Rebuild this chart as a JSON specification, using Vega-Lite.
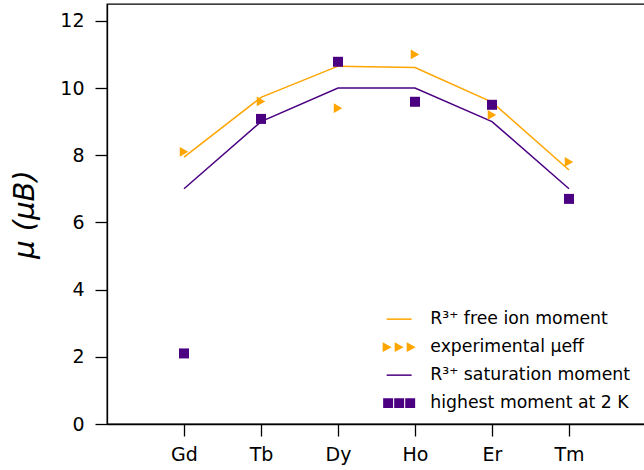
{
  "$schema": "https://vega.github.io/schema/vega-lite/v6.json",
  "autosize": "none",
  "width": 539,
  "height": 420,
  "padding": {"left": 107, "top": 4, "right": 0, "bottom": 46},
  "background": "white",
  "config": {
    "font": "DejaVu Sans",
    "view": {"stroke": "black", "strokeWidth": 1.3},
    "axis": {
      "domainColor": "black", "domainWidth": 1.3,
      "tickColor": "black", "tickWidth": 1.3, "tickSize": 12,
      "labelColor": "black", "labelFont": "DejaVu Sans", "labelFontSize": 19,
      "grid": false
    }
  },
  "data": {
    "values": [
      {"el": "Gd", "i": 0, "series": "R³⁺ free ion moment", "value": 7.94},
      {"el": "Tb", "i": 1, "series": "R³⁺ free ion moment", "value": 9.72},
      {"el": "Dy", "i": 2, "series": "R³⁺ free ion moment", "value": 10.65},
      {"el": "Ho", "i": 3, "series": "R³⁺ free ion moment", "value": 10.61},
      {"el": "Er", "i": 4, "series": "R³⁺ free ion moment", "value": 9.58},
      {"el": "Tm", "i": 5, "series": "R³⁺ free ion moment", "value": 7.56},
      {"el": "Gd", "i": 0, "series": "experimental μeff", "value": 8.1},
      {"el": "Tb", "i": 1, "series": "experimental μeff", "value": 9.6},
      {"el": "Dy", "i": 2, "series": "experimental μeff", "value": 9.4},
      {"el": "Ho", "i": 3, "series": "experimental μeff", "value": 11.0},
      {"el": "Er", "i": 4, "series": "experimental μeff", "value": 9.2},
      {"el": "Tm", "i": 5, "series": "experimental μeff", "value": 7.8},
      {"el": "Gd", "i": 0, "series": "R³⁺ saturation moment", "value": 7.0},
      {"el": "Tb", "i": 1, "series": "R³⁺ saturation moment", "value": 9.0},
      {"el": "Dy", "i": 2, "series": "R³⁺ saturation moment", "value": 10.0},
      {"el": "Ho", "i": 3, "series": "R³⁺ saturation moment", "value": 10.0},
      {"el": "Er", "i": 4, "series": "R³⁺ saturation moment", "value": 9.0},
      {"el": "Tm", "i": 5, "series": "R³⁺ saturation moment", "value": 7.0},
      {"el": "Gd", "i": 0, "series": "highest moment at 2 K", "value": 2.1},
      {"el": "Tb", "i": 1, "series": "highest moment at 2 K", "value": 9.08},
      {"el": "Dy", "i": 2, "series": "highest moment at 2 K", "value": 10.78},
      {"el": "Ho", "i": 3, "series": "highest moment at 2 K", "value": 9.59},
      {"el": "Er", "i": 4, "series": "highest moment at 2 K", "value": 9.5},
      {"el": "Tm", "i": 5, "series": "highest moment at 2 K", "value": 6.7}
    ]
  },
  "encoding": {
    "x": {
      "field": "i", "type": "quantitative",
      "scale": {"domain": [-1, 6], "nice": false, "zero": false},
      "axis": {
        "title": null, "values": [0, 1, 2, 3, 4, 5], "labelPadding": 9,
        "labelExpr": "['Gd','Tb','Dy','Ho','Er','Tm'][datum.value]"
      }
    },
    "y": {
      "field": "value", "type": "quantitative",
      "scale": {"domain": [0, 12.5], "nice": false},
      "axis": {
        "title": "μ (μB)", "values": [0, 2, 4, 6, 8, 10, 12], "labelPadding": 11,
        "titleFont": "DejaVu Sans", "titleFontSize": 29, "titleFontStyle": "italic",
        "titleFontWeight": "normal", "titleColor": "black", "titlePadding": 20
      }
    },
    "color": {
      "field": "series", "type": "nominal",
      "scale": {
        "domain": ["R³⁺ free ion moment", "experimental μeff", "R³⁺ saturation moment", "highest moment at 2 K"],
        "range": ["#FFA500", "#FFA500", "#4B0082", "#4B0082"]
      },
      "legend": {
        "title": null, "orient": "none", "legendX": 283.5, "legendY": 306.5,
        "padding": 0, "symbolSize": 256, "rowPadding": 10,
        "labelFont": "DejaVu Sans", "labelFontSize": 17.3, "labelColor": "black", "labelOffset": 22.5,
        "labelLimit": 400,
        "encode": {
          "symbols": {
            "update": {
              "shape": {"signal": "datum.value == 'experimental μeff' ? 'M-2.06,-0.62L-0.94,0L-2.06,0.62Z M-0.56,-0.62L0.56,0L-0.56,0.62Z M0.94,-0.62L2.06,0L0.94,0.62Z' : (datum.value == 'highest moment at 2 K' ? 'M-2.0,-0.62h1.24v1.24h-1.24Z M-0.62,-0.62h1.24v1.24h-1.24Z M0.76,-0.62h1.24v1.24h-1.24Z' : 'M-1.56,0L1.56,0')"},
              "fill": {"scale": "color", "field": "value"},
              "stroke": {"scale": "color", "field": "value"},
              "strokeWidth": {"signal": "datum.value == 'experimental μeff' || datum.value == 'highest moment at 2 K' ? 0 : 1.5"},
              "opacity": {"value": 1},
              "fillOpacity": {"value": 1}
            }
          }
        }
      }
    }
  },
  "layer": [
    {
      "transform": [{"filter": "datum.series == 'R³⁺ free ion moment' || datum.series == 'R³⁺ saturation moment'"}],
      "mark": {"type": "line", "strokeWidth": 1.5}
    },
    {
      "transform": [{"filter": "datum.series == 'experimental μeff'"}],
      "mark": {"type": "point", "shape": "triangle-right", "filled": true, "size": 95, "opacity": 1}
    },
    {
      "transform": [{"filter": "datum.series == 'highest moment at 2 K'"}],
      "mark": {"type": "point", "shape": "square", "filled": true, "size": 100, "opacity": 1}
    }
  ]
}
